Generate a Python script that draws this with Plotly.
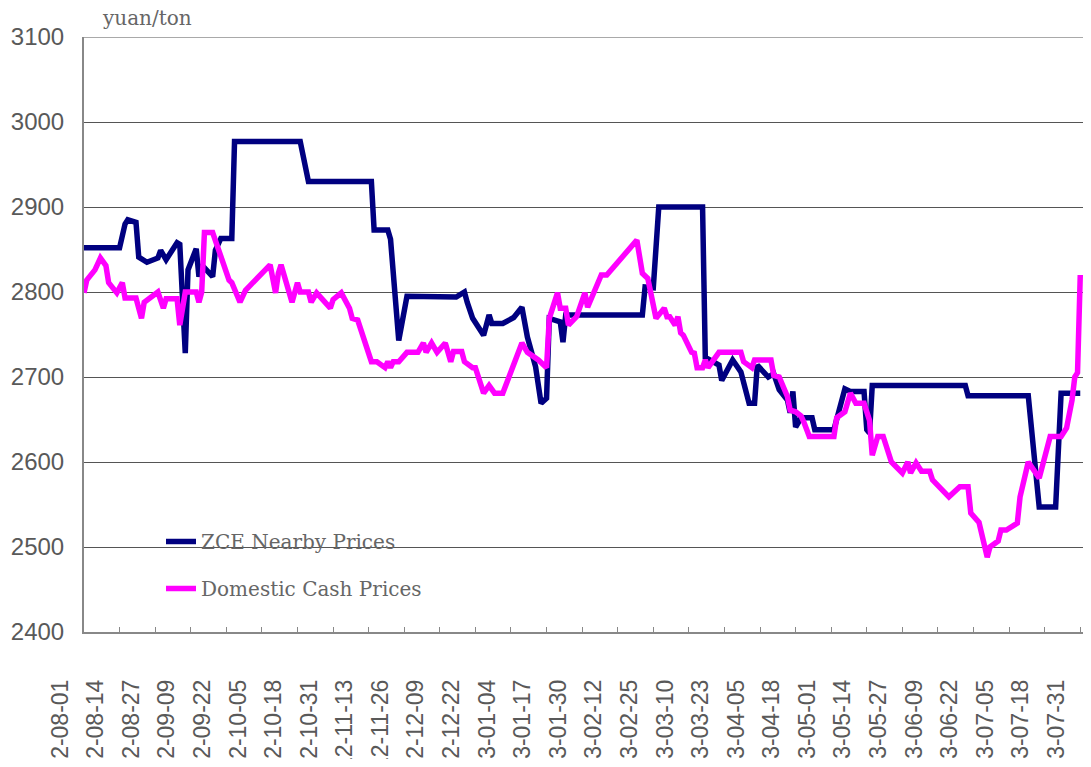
import pandas as pd
import plotly.graph_objects as go

# ---------------- data ----------------
zce_dates = ["2012-08-01","2012-08-14","2012-08-16","2012-08-17","2012-08-20","2012-08-21","2012-08-24",
             "2012-08-28","2012-08-29","2012-08-31","2012-09-04","2012-09-05","2012-09-07","2012-09-08",
             "2012-09-11","2012-09-12","2012-09-13","2012-09-17","2012-09-18","2012-09-20","2012-09-24",
             "2012-09-25","2012-10-19","2012-10-22","2012-11-14","2012-11-15","2012-11-20","2012-11-21",
             "2012-11-24","2012-11-27","2012-12-15","2012-12-18","2012-12-19","2012-12-21","2012-12-25",
             "2012-12-27","2012-12-28","2013-01-01","2013-01-05","2013-01-08","2013-01-10","2013-01-13",
             "2013-01-15","2013-01-17","2013-01-18","2013-01-22","2013-01-23","2013-01-24","2013-02-21",
             "2013-02-22","2013-02-25","2013-02-27","2013-03-15","2013-03-16","2013-03-21","2013-03-22",
             "2013-03-26","2013-03-29","2013-04-01","2013-04-03","2013-04-04","2013-04-08","2013-04-10",
             "2013-04-12","2013-04-15","2013-04-16","2013-04-17","2013-04-18","2013-04-20","2013-04-24",
             "2013-04-25","2013-05-02","2013-05-06","2013-05-08","2013-05-13","2013-05-14","2013-05-15",
             "2013-05-16","2013-06-19","2013-06-20","2013-07-12","2013-07-16","2013-07-22","2013-07-24",
             "2013-07-31"]
zce_prices = [2852,2852,2880,2885,2882,2841,2835,
              2840,2849,2838,2858,2856,2728,2826,
              2851,2818,2832,2818,2849,2863,2863,
              2977,2977,2930,2930,2873,2873,2862,
              2743,2795,2794,2800,2788,2769,2749,
              2773,2763,2763,2770,2782,2747,2712,
              2669,2675,2769,2765,2741,2773,2773,
              2806,2805,2900,2900,2723,2714,2696,
              2720,2706,2669,2669,2714,2700,2704,
              2685,2673,2658,2683,2641,2652,2652,
              2638,2638,2686,2683,2683,2638,2634,
              2690,2690,2678,2678,2547,2547,2681,
              2681]

cash_dates = ["2012-08-01","2012-08-02","2012-08-05","2012-08-07","2012-08-09","2012-08-10","2012-08-13",
              "2012-08-15","2012-08-16","2012-08-20","2012-08-22","2012-08-23","2012-08-28","2012-08-30",
              "2012-08-31","2012-09-04","2012-09-05","2012-09-07","2012-09-11","2012-09-12","2012-09-13",
              "2012-09-14","2012-09-17","2012-09-20","2012-09-23","2012-09-24","2012-09-27","2012-09-29",
              "2012-10-08","2012-10-10","2012-10-11","2012-10-12","2012-10-16","2012-10-18","2012-10-19",
              "2012-10-22","2012-10-23","2012-10-25","2012-10-30","2012-10-31","2012-11-03","2012-11-06",
              "2012-11-07","2012-11-09","2012-11-13","2012-11-14","2012-11-16","2012-11-19","2012-11-20",
              "2012-11-21","2012-11-22","2012-11-24","2012-11-27","2012-12-01","2012-12-03","2012-12-04",
              "2012-12-06","2012-12-08","2012-12-11","2012-12-12","2012-12-13","2012-12-14","2012-12-17",
              "2012-12-18","2012-12-21","2012-12-22","2012-12-25","2012-12-27","2012-12-29","2013-01-01",
              "2013-01-08","2013-01-10","2013-01-14","2013-01-17","2013-01-18","2013-01-21","2013-01-22",
              "2013-01-24","2013-01-25","2013-01-28","2013-01-31","2013-02-01","2013-02-05","2013-02-06",
              "2013-02-08","2013-02-19","2013-02-21","2013-02-23","2013-02-26","2013-03-01","2013-03-02",
              "2013-03-03","2013-03-05","2013-03-06","2013-03-07","2013-03-08","2013-03-11","2013-03-12",
              "2013-03-13","2013-03-15","2013-03-16","2013-03-17","2013-03-21","2013-03-29","2013-03-30",
              "2013-04-02","2013-04-03","2013-04-09","2013-04-10","2013-04-12","2013-04-15","2013-04-16",
              "2013-04-18","2013-04-20","2013-04-21","2013-04-23","2013-05-02","2013-05-03","2013-05-06",
              "2013-05-08","2013-05-10","2013-05-13","2013-05-15","2013-05-16","2013-05-18","2013-05-20",
              "2013-05-21","2013-05-23","2013-05-27","2013-05-29","2013-05-30","2013-06-01","2013-06-03",
              "2013-06-06","2013-06-07","2013-06-13","2013-06-17","2013-06-20","2013-06-21","2013-06-24",
              "2013-06-27","2013-06-28","2013-07-01","2013-07-02","2013-07-04","2013-07-08","2013-07-09",
              "2013-07-10","2013-07-12","2013-07-16","2013-07-18","2013-07-20","2013-07-24","2013-07-26",
              "2013-07-28","2013-07-29","2013-07-30","2013-07-31"]
cash_prices = [2799,2814,2826,2840,2831,2811,2799,
               2811,2793,2793,2769,2788,2800,2781,
               2792,2792,2761,2800,2800,2788,2800,
               2870,2870,2841,2814,2811,2788,2802,
               2832,2799,2822,2832,2788,2811,2800,
               2800,2788,2799,2781,2791,2799,2781,
               2769,2767,2728,2718,2718,2711,2718,
               2711,2718,2718,2729,2729,2740,2729,
               2740,2729,2740,2728,2718,2730,2730,
               2718,2711,2711,2681,2690,2681,2681,
               2740,2729,2720,2711,2769,2799,2781,
               2781,2761,2771,2799,2782,2811,2820,
               2820,2861,2822,2816,2769,2781,2771,
               2771,2761,2771,2752,2749,2729,2728,
               2711,2711,2720,2711,2729,2729,2718,
               2711,2720,2720,2702,2700,2677,2661,
               2659,2654,2647,2630,2630,2652,2659,
               2681,2669,2669,2649,2608,2630,2630,
               2620,2600,2587,2600,2587,2599,2589,
               2589,2579,2559,2571,2571,2540,2529,
               2488,2500,2507,2520,2520,2528,2559,
               2571,2600,2581,2606,2630,2630,2640,
               2673,2700,2705,2820]

tick_dates = ["2012-08-01","2012-08-14","2012-08-27","2012-09-09","2012-09-22","2012-10-05","2012-10-18",
              "2012-10-31","2012-11-13","2012-11-26","2012-12-09","2012-12-22","2013-01-04","2013-01-17",
              "2013-01-30","2013-02-12","2013-02-25","2013-03-10","2013-03-23","2013-04-05","2013-04-18",
              "2013-05-01","2013-05-14","2013-05-27","2013-06-09","2013-06-22","2013-07-05","2013-07-18",
              "2013-07-31"]

y_ticks = [2400, 2500, 2600, 2700, 2800, 2900, 3000, 3100]

series_names = ["ZCE Nearby Prices", "Domestic Cash Prices"]
unit_label = "yuan/ton"

# ---------------- layout constants ----------------
# the page body has an 8px default margin, so the figure is drawn 8px right / down;
# keep the page inside the window so no scrollbar appears
OFF = 8
W, H = 1091 - 2 * OFF, 767 - 2 * OFF
ML, MR, MT = 40 - OFF, 0, 37 - OFF
MB = H - (632 - OFF)
AXIS_LEFT = 84 - OFF
X_START, X_END = "2012-08-01", "2013-08-01"
LABEL_SHIFT_DAYS = 8.7

plot_w = W - ML - MR
plot_h = H - MT - MB
dom0 = (AXIS_LEFT - ML) / plot_w

x0 = pd.Timestamp(X_START)
x1 = pd.Timestamp(X_END)
span_days = (x1 - x0) / pd.Timedelta(days=1)
ext_days = span_days * dom0 / (1 - dom0)
x2_start = x0 - pd.Timedelta(days=ext_days)
label_pos = [pd.Timestamp(d) - pd.Timedelta(days=LABEL_SHIFT_DAYS) for d in tick_dates]


def px_x(sx):  # screen px -> paper x
    return (sx - OFF - ML) / plot_w


def px_y(sy):  # screen px -> paper y
    return 1 - (sy - OFF - MT) / plot_h


text_color = "#595959"
serif = "DejaVu Serif, serif"
sans = "Liberation Sans, Arial, sans-serif"

fig = go.Figure()
fig.add_trace(go.Scatter(x=zce_dates, y=zce_prices, mode="lines", name=series_names[0],
                         line=dict(color="#000080", width=5.5), legendgroup="a"))
fig.add_trace(go.Scatter(x=cash_dates, y=cash_prices, mode="lines", name=series_names[1],
                         line=dict(color="#FF00FF", width=5.5), legendgroup="b"))
fig.add_trace(go.Scatter(x=[], y=[], xaxis="x2", yaxis="y2", showlegend=False, hoverinfo="skip"))

fig.update_layout(
    width=W, height=H,
    margin=dict(l=ML, r=MR, t=MT, b=MB, pad=0, autoexpand=False),
    paper_bgcolor="white", plot_bgcolor="rgba(0,0,0,0)",
    xaxis=dict(domain=[dom0, 1], range=[x0, x1], type="date", automargin=False,
               tickvals=tick_dates, showticklabels=False,
               ticks="inside", ticklen=5, tickwidth=1, tickcolor="#888888",
               showline=True, linecolor="#888888", linewidth=2,
               showgrid=False, zeroline=False),
    xaxis2=dict(domain=[0, 1], range=[x2_start, x1], type="date", anchor="y2", automargin=False,
                tickvals=label_pos, ticktext=tick_dates, tickangle=-90,
                ticks="", showline=False, showgrid=False, zeroline=False,
                ticklabelstandoff=42,
                tickfont=dict(family=sans, size=23, color=text_color)),
    yaxis=dict(range=[2400, 3100], tickvals=y_ticks, ticks="", automargin=False,
               showline=True, linecolor="#888888", linewidth=2,
               showgrid=True, gridcolor="#555555", gridwidth=1,
               zeroline=False, ticklabelstandoff=13,
               tickfont=dict(family=sans, size=24, color=text_color)),
    yaxis2=dict(domain=[0, 1], range=[0, 1], visible=False, automargin=False),
    legend=dict(x=px_x(161), y=px_y(522),
                xanchor="left", yanchor="top", bgcolor="rgba(0,0,0,0)",
                font=dict(family=serif, size=20, color="#666666"),
                tracegroupgap=18, itemwidth=30),
    showlegend=True,
    shapes=[dict(type="line", xref="paper", yref="y", x0=dom0, x1=1, y0=3100, y1=3100,
                 line=dict(color="#555555", width=1), layer="below")],
    annotations=[dict(text=unit_label, xref="paper", yref="paper",
                      x=px_x(100), y=px_y(18),
                      xanchor="left", yanchor="middle", showarrow=False,
                      font=dict(family=serif, size=20, color="#666666"))],
)

fig.write_html("out.html")
